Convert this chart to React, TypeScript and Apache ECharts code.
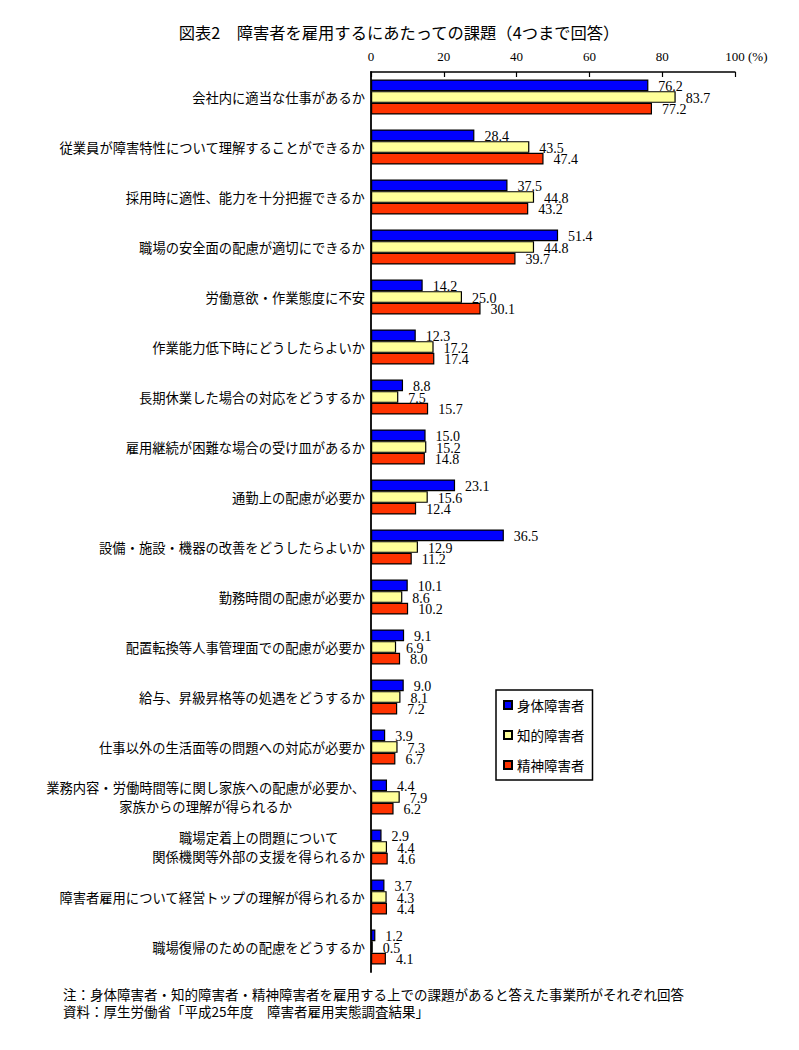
import React, { useEffect, useRef } from "react";
import * as echarts from "echarts";

const categories = [
  "会社内に適当な仕事があるか",
  "従業員が障害特性について理解することができるか",
  "採用時に適性、能力を十分把握できるか",
  "職場の安全面の配慮が適切にできるか",
  "労働意欲・作業態度に不安",
  "作業能力低下時にどうしたらよいか",
  "長期休業した場合の対応をどうするか",
  "雇用継続が困難な場合の受け皿があるか",
  "通勤上の配慮が必要か",
  "設備・施設・機器の改善をどうしたらよいか",
  "勤務時間の配慮が必要か",
  "配置転換等人事管理面での配慮が必要か",
  "給与、昇級昇格等の処遇をどうするか",
  "仕事以外の生活面等の問題への対応が必要か",
  "業務内容・労働時間等に関し家族への配慮が必要か、\n家族からの理解が得られるか",
  "職場定着上の問題について\n関係機関等外部の支援を得られるか",
  "障害者雇用について経営トップの理解が得られるか",
  "職場復帰のための配慮をどうするか",
];

const physical = [76.2, 28.4, 37.5, 51.4, 14.2, 12.3, 8.8, 15.0, 23.1, 36.5, 10.1, 9.1, 9.0, 3.9, 4.4, 2.9, 3.7, 1.2];
const intellectual = [83.7, 43.5, 44.8, 44.8, 25.0, 17.2, 7.5, 15.2, 15.6, 12.9, 8.6, 6.9, 8.1, 7.3, 7.9, 4.4, 4.3, 0.5];
const mental = [77.2, 47.4, 43.2, 39.7, 30.1, 17.4, 15.7, 14.8, 12.4, 11.2, 10.2, 8.0, 7.2, 6.7, 6.2, 4.6, 4.4, 4.1];

const seriesNames = ["身体障害者", "知的障害者", "精神障害者"];
const seriesColors = ["#0000FF", "#FFFF99", "#FF3300"];

const titleText = "図表2　障害者を雇用するにあたっての課題（4つまで回答）";
const unitText = "(%)";
const noteText = "注：身体障害者・知的障害者・精神障害者を雇用する上での課題があると答えた事業所がそれぞれ回答";
const sourceText = "資料：厚生労働省「平成25年度　障害者雇用実態調査結果」";

const JP = "'Noto Sans CJK JP', 'Noto Sans', sans-serif";
const SERIF = "'Liberation Serif', 'DejaVu Serif', serif";

export default function App() {
  const ref = useRef<HTMLDivElement>(null);

  useEffect(() => {
    const chart = echarts.init(ref.current!, null, { renderer: "svg" });
    const values = [physical, intellectual, mental];

    chart.setOption({
      animation: false,
      backgroundColor: "#ffffff",
      grid: { left: 371, top: 72, width: 364, height: 900, containLabel: false },
      xAxis: {
        type: "value",
        position: "top",
        min: 0,
        max: 100,
        interval: 20,
        axisLine: { show: true, lineStyle: { color: "#000", width: 1.5 } },
        axisTick: { show: true, inside: true, length: 5, lineStyle: { color: "#000", width: 1.2 } },
        splitLine: { show: false },
        axisLabel: { color: "#000", fontFamily: SERIF, fontSize: 13, margin: 9 },
      },
      yAxis: {
        type: "category",
        data: categories,
        inverse: true,
        axisLine: { show: true, onZero: false, lineStyle: { color: "#000", width: 1.8 } },
        axisTick: { show: false },
        splitLine: { show: false },
        axisLabel: {
          margin: 6,
          color: "#000",
          fontFamily: JP,
          fontSize: 13.3,
          formatter: (v: string) =>
            v
              .split("\n")
              .map((l) => `{c|${l}}`)
              .join("\n"),
          rich: {
            c: { align: "center", fontFamily: JP, fontSize: 13.3, lineHeight: 19, color: "#000" },
          },
        },
      },
      legend: {
        orient: "vertical",
        left: 496,
        top: 690,
        itemWidth: 8,
        itemHeight: 8,
        itemGap: 16,
        padding: [8, 8, 8, 7],
        borderColor: "#000",
        borderWidth: 1.5,
        icon: "rect",
        data: seriesNames,
        textStyle: { color: "#000", fontFamily: JP, fontSize: 13.5, lineHeight: 14 },
      },
      series: seriesNames.map((name, i) => ({
        name,
        type: "bar",
        data: values[i],
        barGap: "0%",
        barCategoryGap: "30%",
        itemStyle: { color: seriesColors[i], borderColor: "#000", borderWidth: 1.2 },
        label: {
          show: true,
          position: "right",
          distance: 10,
          offset: [0, 1],
          color: "#000",
          fontFamily: SERIF,
          fontSize: 14,
          formatter: (p: any) => Number(p.value).toFixed(1),
        },
      })),
      graphic: [
        {
          type: "text",
          left: "center",
          top: 24,
          style: { text: titleText, fill: "#000", font: `16.3px ${JP}` },
        },
        {
          type: "text",
          x: 748,
          y: 50,
          style: { text: unitText, fill: "#000", font: `13px ${SERIF}` },
        },
        {
          type: "text",
          x: 63,
          y: 987,
          style: { text: noteText, fill: "#000", font: `13.5px ${JP}` },
        },
        {
          type: "text",
          x: 63,
          y: 1004,
          style: { text: sourceText, fill: "#000", font: `13.5px ${JP}` },
        },
      ],
    });

    return () => chart.dispose();
  }, []);

  return (
    <div
      ref={ref}
      style={{ position: "absolute", left: 0, top: 0, width: 799, height: 1050 }}
    />
  );
}
